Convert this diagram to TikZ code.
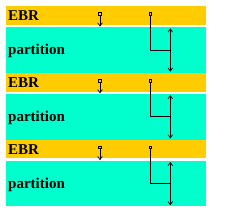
\documentclass[tikz,border=0pt]{standalone}
\usepackage{fontspec}
\setmainfont{Liberation Serif}
\usetikzlibrary{arrows.meta}
\definecolor{ebrcol}{RGB}{255,204,0}
\definecolor{partcol}{RGB}{0,255,204}
\tikzset{ptr/.tip={Straight Barb[length=3.2pt,width=4.6pt,line width=0.7pt]}}
\begin{document}
\begin{tikzpicture}[x=1pt,y=-1pt,
  ebrband/.style={fill=ebrcol,draw=none,minimum width=200pt,minimum height=18.8pt,inner sep=0pt,outer sep=0pt,anchor=north west},
  partband/.style={fill=partcol,draw=none,minimum width=200pt,minimum height=45.5pt,inner sep=0pt,outer sep=0pt,anchor=north west},
  lbl/.style={inner sep=0pt,anchor=base west,font=\fontsize{15}{18}\selectfont\bfseries},
  sq/.style={draw=black,line width=0.6pt,inner sep=0pt,minimum size=2.6pt,outer sep=0pt},
  conn/.style={draw=black,line width=0.8pt}
]
\useasboundingbox (0,0) rectangle (237,214);
\foreach \k in {0,1,2}{
  \pgfmathsetmacro\t{6+66.8*\k}
  \node[ebrband] (ebr\k) at (6,\t) {};
  \node[partband] (part\k) at (6,\t+21.2) {};
  \node[lbl] (ebrlbl\k) at (8,\t+14.8) {EBR};
  \node[lbl] (partlbl\k) at (8,\t+48.5) {partition};
  % pointer to next EBR
  \node[sq] (sa\k) at (100,\t+7.7) {};
  \coordinate (ea\k) at (100,\t+20.6);
  \draw[conn,-{ptr}] (sa\k) -- (ea\k);
  % pointer to partition
  \node[sq] (sb\k) at (150.3,\t+7.7) {};
  \coordinate (jb\k) at (170.3,\t+44);
  \draw[conn] (sb\k) |- (jb\k);
  \coordinate (pa\k) at (170.3,\t+22.3);
  \coordinate (pb\k) at (170.3,\t+65.7);
  \draw[conn,{ptr}-{ptr}] (pa\k) -- (pb\k);
}
\end{tikzpicture}
\end{document}
